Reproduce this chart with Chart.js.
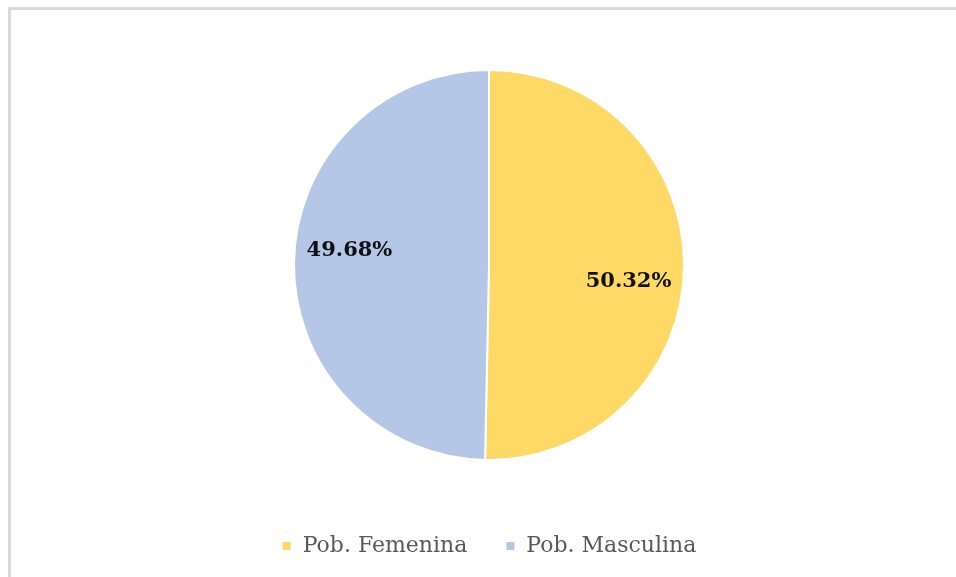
<!DOCTYPE html>
<html>
<head>
<meta charset="utf-8">
<script src="https://cdn.jsdelivr.net/npm/chart.js@4"></script>
<style>
  html, body { margin: 0; padding: 0; background: #fff; }
  #frame { position: absolute; left: 8px; top: 7px; width: 970px; height: 600px; border: 3px solid #d9d9d9; box-sizing: border-box; }
  #wrap { position: absolute; left: 0; top: 0; width: 956px; height: 577px; }
</style>
</head>
<body>
<div id="frame"></div>
<div id="wrap"><canvas id="c" width="956" height="577"></canvas></div>
<script>
// Distribución de población por sexo
const categories = ['Pob. Femenina', 'Pob. Masculina'];
const shares = [50.32, 49.68];
const colors = ['#FFD966', '#B4C7E7'];

const SERIF = '"DejaVu Serif", "Liberation Serif", serif';

// draws the percentage labels inside each slice
const sliceLabels = {
  id: 'sliceLabels',
  afterDatasetsDraw(chart) {
    const ctx = chart.ctx;
    const meta = chart.getDatasetMeta(0);
    ctx.save();
    ctx.font = 'bold 21px ' + SERIF;
    ctx.fillStyle = '#111111';
    ctx.textAlign = 'center';
    ctx.textBaseline = 'middle';
    meta.data.forEach((arc, i) => {
      const p = arc.getProps(['x', 'y', 'startAngle', 'endAngle', 'outerRadius'], true);
      const mid = (p.startAngle + p.endAngle) / 2 + 0.1;
      const r = p.outerRadius * 0.72;
      ctx.fillText(shares[i].toFixed(2) + '%', p.x + Math.cos(mid) * r, p.y + Math.sin(mid) * r + 1);
    });
    ctx.restore();
  }
};

new Chart(document.getElementById('c').getContext('2d'), {
  type: 'pie',
  data: {
    labels: categories,
    datasets: [{
      data: shares,
      backgroundColor: colors,
      borderColor: '#ffffff',
      borderWidth: 2
    }]
  },
  options: {
    responsive: false,
    animation: false,
    radius: 195,
    layout: { padding: { top: 33, bottom: 10, left: 22, right: 0 } },
    plugins: {
      tooltip: { enabled: false },
      legend: {
        position: 'bottom',
        labels: {
          boxWidth: 10,
          boxHeight: 10,
          padding: 38,
          color: '#595959',
          font: { family: SERIF, size: 22 }
        }
      }
    }
  },
  plugins: [sliceLabels]
});
</script>
</body>
</html>
